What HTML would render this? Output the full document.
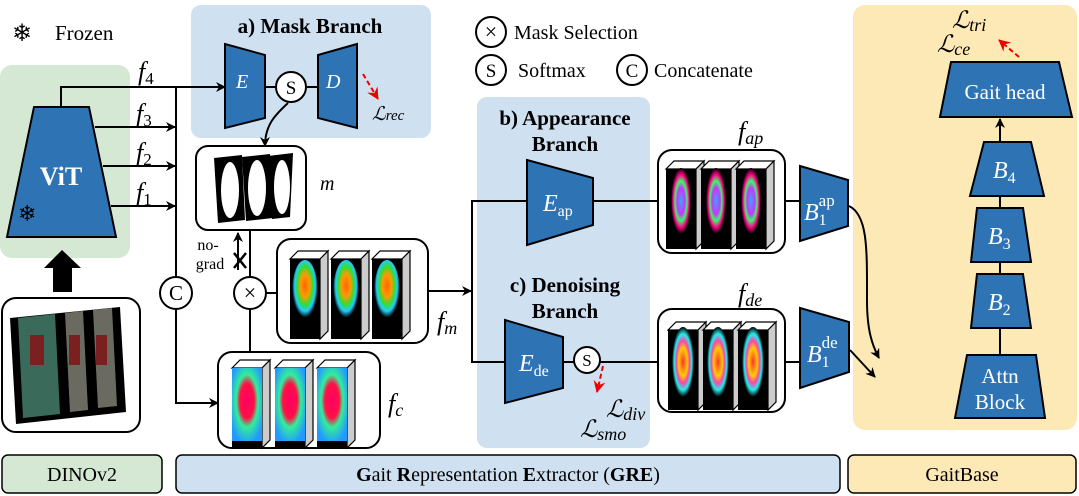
<!DOCTYPE html>
<html><head><meta charset="utf-8"><style>
html,body{margin:0;padding:0;background:#fff}
svg{display:block;font-family:"Liberation Serif","DejaVu Serif",serif}
svg text{font-family:"Liberation Serif","DejaVu Serif",serif}
.w{fill:#fff}
.it{font-style:italic}
</style></head><body>
<svg width="1079" height="496" viewBox="0 0 1079 496" xmlns="http://www.w3.org/2000/svg" font-family="Liberation Serif, serif">
<defs>
<marker id="ar" markerWidth="10" markerHeight="10" refX="9" refY="5" orient="auto" markerUnits="userSpaceOnUse"><path d="M0,0 L10,5 L0,10 L3,5 Z" fill="#000"/></marker>
<marker id="rr" markerWidth="12" markerHeight="12" refX="11" refY="6" orient="auto" markerUnits="userSpaceOnUse"><path d="M0,0 L12,6 L0,12 L4,6 Z" fill="#e00"/></marker>
<radialGradient id="gm" cx="0.5" cy="0.4" r="0.5"><stop offset="0" stop-color="#f60"/><stop offset="0.35" stop-color="#f90"/><stop offset="0.6" stop-color="#3d3"/><stop offset="0.8" stop-color="#2cf"/><stop offset="1" stop-color="#000"/></radialGradient>
<radialGradient id="gc" cx="0.5" cy="0.45" r="0.6"><stop offset="0" stop-color="#f06"/><stop offset="0.4" stop-color="#f14"/><stop offset="0.6" stop-color="#3e9"/><stop offset="1" stop-color="#29f"/></radialGradient>
<radialGradient id="ga" cx="0.5" cy="0.5" r="0.5"><stop offset="0" stop-color="#3af"/><stop offset="0.4" stop-color="#c3f"/><stop offset="0.6" stop-color="#3f6"/><stop offset="0.8" stop-color="#f08"/><stop offset="1" stop-color="#000"/></radialGradient>
<radialGradient id="gd" cx="0.5" cy="0.5" r="0.5"><stop offset="0" stop-color="#f33"/><stop offset="0.4" stop-color="#fc0"/><stop offset="0.6" stop-color="#f4a"/><stop offset="0.8" stop-color="#2ee"/><stop offset="1" stop-color="#000"/></radialGradient>
<g id="cube"><polygon points="0,8 8,0 38,0 30,8" fill="#fff" stroke="#000" stroke-width="1.2"/><polygon points="30,8 38,0 38,80 30,88" fill="#ccc" stroke="#000" stroke-width="1.2"/><rect x="0" y="8" width="30" height="80" fill="#000"/></g>
</defs>

<rect x="0" y="65" width="130" height="193" rx="12" fill="#d5e8d4"/>
<rect x="191" y="5" width="240" height="133" rx="10" fill="#cfe0f1"/>
<rect x="477" y="97" width="173" height="351" rx="10" fill="#cfe0f1"/>
<rect x="853" y="5" width="224" height="425" rx="12" fill="#fde9b5"/>

<rect x="2" y="455" width="160" height="38" rx="6" fill="#d5e8d4" stroke="#000" stroke-width="1.5"/>
<text x="82" y="481" font-size="20" text-anchor="middle">DINOv2</text>
<rect x="176" y="455" width="664" height="38" rx="6" fill="#cfe0f1" stroke="#000" stroke-width="1.5"/>
<text x="508" y="481" font-size="20" text-anchor="middle"><tspan font-weight="bold">G</tspan>ait <tspan font-weight="bold">R</tspan>epresentation <tspan font-weight="bold">E</tspan>xtractor (<tspan font-weight="bold">GRE</tspan>)</text>
<rect x="848" y="455" width="228" height="38" rx="6" fill="#fde9b5" stroke="#000" stroke-width="1.5"/>
<text x="962" y="481" font-size="20" text-anchor="middle">GaitBase</text>

<text x="12" y="41" font-size="24" font-family="DejaVu Sans, sans-serif">❄</text>
<text x="55" y="40" font-size="21">Frozen</text>
<circle cx="491" cy="32" r="15" fill="#fff" stroke="#000" stroke-width="2"/><text x="491" y="39" font-size="22" text-anchor="middle">×</text>
<text x="514" y="39" font-size="20">Mask Selection</text>
<circle cx="491" cy="70" r="15" fill="#fff" stroke="#000" stroke-width="2"/><text x="491" y="77" font-size="19" text-anchor="middle">S</text>
<text x="518" y="77" font-size="20">Softmax</text>
<circle cx="632" cy="70" r="15" fill="#fff" stroke="#000" stroke-width="2"/><text x="632" y="77" font-size="19" text-anchor="middle">C</text>
<text x="654" y="77" font-size="20">Concatenate</text>

<polygon points="34,107 89,107 116,237 7,237" fill="#2e74b5" stroke="#000" stroke-width="2"/>
<text x="61" y="185" font-size="26" font-weight="bold" text-anchor="middle" fill="#fff">ViT</text>
<text x="18" y="221" font-size="22" font-family="DejaVu Sans, sans-serif">❄</text>
<polygon points="62,250 44,268 53,268 53,292 72,292 72,268 81,268" fill="#000"/>
<rect x="2" y="298" width="138" height="134" rx="14" fill="#fff" stroke="#000" stroke-width="2"/>
<polygon points="10,318 120,307 126,412 16,424" fill="#000"/>
<polygon points="18,318 55,314 60,414 23,418" fill="#3a6b5a"/>
<polygon points="65,313 83,311 88,410 70,412" fill="#6a6a60"/>
<polygon points="93,310 112,308 117,406 98,408" fill="#6a6a60"/>
<rect x="30" y="335" width="14" height="30" fill="#7b2020"/><rect x="69" y="335" width="11" height="30" fill="#7b2020"/><rect x="96" y="335" width="11" height="30" fill="#7b2020"/>

<path d="M61,107 V87 H225" fill="none" stroke="#000" stroke-width="2" marker-end="url(#ar)"/>
<path d="M95,127 H175" stroke="#000" stroke-width="2" marker-end="url(#ar)"/>
<path d="M103,166 H175" stroke="#000" stroke-width="2" marker-end="url(#ar)"/>
<path d="M111,206 H175" stroke="#000" stroke-width="2" marker-end="url(#ar)"/>
<text x="138" y="80" font-size="26" class="it">f<tspan font-size="17" dy="4" font-style="normal">4</tspan></text>
<text x="136" y="122" font-size="26" class="it">f<tspan font-size="17" dy="4" font-style="normal">3</tspan></text>
<text x="136" y="161" font-size="26" class="it">f<tspan font-size="17" dy="4" font-style="normal">2</tspan></text>
<text x="136" y="201" font-size="26" class="it">f<tspan font-size="17" dy="4" font-style="normal">1</tspan></text>
<path d="M176,87 V277 M176,309 V403 H218" fill="none" stroke="#000" stroke-width="2" marker-end="url(#ar)"/>
<circle cx="176" cy="293" r="16" fill="#fff" stroke="#000" stroke-width="2"/><text x="176" y="300" font-size="21" text-anchor="middle">C</text>

<text x="310" y="33" font-size="21" font-weight="bold" text-anchor="middle">a) Mask Branch</text>
<polygon points="225,44 265,55 265,118 225,128" fill="#2e74b5" stroke="#000" stroke-width="2"/>
<text x="236" y="88" font-size="20" class="it w">E</text>
<polygon points="318,55 357,44 357,128 318,118" fill="#2e74b5" stroke="#000" stroke-width="2"/>
<text x="326" y="88" font-size="20" class="it w">D</text>
<path d="M265,87 H318" stroke="#000" stroke-width="2"/>
<circle cx="291" cy="87" r="15" fill="#fff" stroke="#000" stroke-width="2"/><text x="291" y="94" font-size="19" text-anchor="middle">S</text>
<path d="M288,103 C275,115 265,125 265,146" fill="none" stroke="#000" stroke-width="2" marker-end="url(#ar)"/>
<path d="M363,74 L378,99" stroke="#e00" stroke-width="2" stroke-dasharray="5,3" marker-end="url(#rr)"/>
<text x="372" y="120" font-size="19" class="it">ℒ<tspan font-size="15">rec</tspan></text>

<rect x="196" y="146" width="110" height="84" rx="12" fill="#fff" stroke="#000" stroke-width="2"/>
<polygon points="214,158 242,155 245,220 218,223" fill="#000"/>
<polygon points="242,157 270,154 273,218 246,221" fill="#000"/>
<polygon points="268,156 293,153 290,217 272,219" fill="#000"/>
<ellipse cx="230" cy="190" rx="9" ry="28" fill="#fff"/><ellipse cx="257" cy="188" rx="9" ry="28" fill="#fff"/><ellipse cx="282" cy="187" rx="8" ry="27" fill="#fff"/>
<text x="320" y="190" font-size="20" class="it">m</text>

<text x="208" y="250" font-size="16" text-anchor="middle">no-</text>
<text x="210" y="269" font-size="16" text-anchor="middle">grad</text>
<path d="M238,270 V233" stroke="#000" stroke-width="2" marker-end="url(#ar)"/>
<path d="M250,230 V277" stroke="#000" stroke-width="2"/>
<path d="M234,253 L246,268 M246,253 L234,268" stroke="#000" stroke-width="2.5"/>
<circle cx="250" cy="293" r="16" fill="#fff" stroke="#000" stroke-width="2"/><text x="250" y="300" font-size="22" text-anchor="middle">×</text>
<path d="M250,309 V352 M266,293 H277" stroke="#000" stroke-width="2"/>

<rect x="277" y="239" width="151" height="104" rx="14" fill="#fff" stroke="#000" stroke-width="2"/>
<use href="#cube" x="290" y="251"/><use href="#cube" x="331" y="251"/><use href="#cube" x="372" y="251"/>
<ellipse cx="305" cy="292" rx="13" ry="32" fill="url(#gm)"/><ellipse cx="346" cy="292" rx="13" ry="32" fill="url(#gm)"/><ellipse cx="387" cy="292" rx="13" ry="32" fill="url(#gm)"/>
<path d="M428,291 H471" stroke="#000" stroke-width="2" marker-end="url(#ar)"/>
<text x="437" y="330" font-size="26" class="it">f<tspan font-size="18" dy="4">m</tspan></text>

<rect x="218" y="352" width="162" height="96" rx="14" fill="#fff" stroke="#000" stroke-width="2"/>
<use href="#cube" x="232" y="360"/><use href="#cube" x="275" y="360"/><use href="#cube" x="317" y="360"/>
<rect x="232" y="368" width="30" height="73" fill="url(#gc)"/><rect x="275" y="368" width="30" height="73" fill="url(#gc)"/><rect x="317" y="368" width="30" height="73" fill="url(#gc)"/>
<text x="388" y="412" font-size="26" class="it">f<tspan font-size="18" dy="4">c</tspan></text>

<path d="M472,200 V363" stroke="#000" stroke-width="2"/>
<path d="M472,201 H527 M593,201 H660" stroke="#000" stroke-width="2"/>
<path d="M472,362 H505 M563,362 H660" stroke="#000" stroke-width="2"/>
<text x="565" y="125" font-size="21" font-weight="bold" text-anchor="middle">b) Appearance</text>
<text x="565" y="151" font-size="21" font-weight="bold" text-anchor="middle">Branch</text>
<polygon points="527,160 593,178 593,225 527,245" fill="#2e74b5" stroke="#000" stroke-width="2"/>
<text x="543" y="211" font-size="24" class="it w">E<tspan font-size="16" dy="5" font-style="normal">ap</tspan></text>
<text x="565" y="292" font-size="21" font-weight="bold" text-anchor="middle">c) Denoising</text>
<text x="565" y="318" font-size="21" font-weight="bold" text-anchor="middle">Branch</text>
<polygon points="505,320 563,337 563,388 505,403" fill="#2e74b5" stroke="#000" stroke-width="2"/>
<text x="519" y="371" font-size="24" class="it w">E<tspan font-size="16" dy="5" font-style="normal">de</tspan></text>
<circle cx="587" cy="360" r="13" fill="#fff" stroke="#000" stroke-width="2"/><text x="587" y="366" font-size="17" text-anchor="middle">S</text>
<path d="M603,366 L597,392" stroke="#e00" stroke-width="2" stroke-dasharray="5,3" marker-end="url(#rr)"/>
<text x="606" y="417" font-size="24" class="it">ℒ<tspan font-size="18" dy="3">div</tspan></text>
<text x="580" y="437" font-size="24" class="it">ℒ<tspan font-size="18" dy="3">smo</tspan></text>

<rect x="658" y="150" width="127" height="103" rx="14" fill="#fff" stroke="#000" stroke-width="2"/>
<use href="#cube" x="666" y="161"/><use href="#cube" x="701" y="161"/><use href="#cube" x="736" y="161"/>
<ellipse cx="681" cy="201" rx="10" ry="33" fill="url(#ga)"/><ellipse cx="716" cy="201" rx="10" ry="33" fill="url(#ga)"/><ellipse cx="751" cy="201" rx="10" ry="33" fill="url(#ga)"/>
<text x="738" y="140" font-size="26" class="it">f<tspan font-size="18" dy="4">ap</tspan></text>
<rect x="658" y="309" width="127" height="103" rx="14" fill="#fff" stroke="#000" stroke-width="2"/>
<use href="#cube" x="668" y="322"/><use href="#cube" x="703" y="322"/><use href="#cube" x="738" y="322"/>
<ellipse cx="683" cy="362" rx="11" ry="35" fill="url(#gd)"/><ellipse cx="718" cy="362" rx="11" ry="35" fill="url(#gd)"/><ellipse cx="753" cy="362" rx="11" ry="35" fill="url(#gd)"/>
<text x="738" y="302" font-size="26" class="it">f<tspan font-size="18" dy="4">de</tspan></text>
<path d="M785,201 H800 M785,362 H800" stroke="#000" stroke-width="2"/>

<polygon points="800,166 848,180 848,226 800,241" fill="#2e74b5" stroke="#000" stroke-width="2"/>
<text x="804" y="220" font-size="24" class="it w">B<tspan font-size="16" dy="5" font-style="normal">1</tspan><tspan font-size="17" dx="-8" dy="-19" font-style="normal">ap</tspan></text>
<polygon points="800,308 849,322 849,372 800,388" fill="#2e74b5" stroke="#000" stroke-width="2"/>
<text x="807" y="362" font-size="24" class="it w">B<tspan font-size="16" dy="5" font-style="normal">1</tspan><tspan font-size="17" dx="-8" dy="-19" font-style="normal">de</tspan></text>
<path d="M849,206 C868,215 867,250 867,300 C867,330 872,345 879,358" fill="none" stroke="#000" stroke-width="2" marker-end="url(#ar)"/>
<path d="M850,350 L875,377" stroke="#000" stroke-width="2" marker-end="url(#ar)"/>

<path d="M1000,355 V142" stroke="#000" stroke-width="2"/>
<path d="M1000,142 V119" stroke="#000" stroke-width="2" marker-end="url(#ar)"/>
<polygon points="967,355 1036,355 1045,418 955,418" fill="#2e74b5" stroke="#000" stroke-width="2"/>
<text x="1000" y="383" font-size="21" text-anchor="middle" class="w">Attn</text>
<text x="1000" y="409" font-size="21" text-anchor="middle" class="w">Block</text>
<polygon points="977,274 1023,274 1031,328 971,328" fill="#2e74b5" stroke="#000" stroke-width="2"/>
<text x="988" y="310" font-size="24" class="it w">B<tspan font-size="16" dy="5" font-style="normal">2</tspan></text>
<polygon points="977,208 1023,208 1031,262 971,262" fill="#2e74b5" stroke="#000" stroke-width="2"/>
<text x="988" y="244" font-size="24" class="it w">B<tspan font-size="16" dy="5" font-style="normal">3</tspan></text>
<polygon points="984,142 1031,142 1044,196 970,196" fill="#2e74b5" stroke="#000" stroke-width="2"/>
<text x="993" y="178" font-size="24" class="it w">B<tspan font-size="16" dy="5" font-style="normal">4</tspan></text>
<polygon points="951,62 1059,62 1072,117 940,117" fill="#2e74b5" stroke="#000" stroke-width="2"/>
<text x="1005" y="99" font-size="21" text-anchor="middle" class="w">Gait head</text>
<path d="M1019,57 L999,40" stroke="#e00" stroke-width="2" stroke-dasharray="5,3" marker-end="url(#rr)"/>
<text x="952" y="28" font-size="24" class="it">ℒ<tspan font-size="18" dy="3">tri</tspan></text>
<text x="937" y="52" font-size="24" class="it">ℒ<tspan font-size="18" dy="3">ce</tspan></text>
</svg>
</body></html>
